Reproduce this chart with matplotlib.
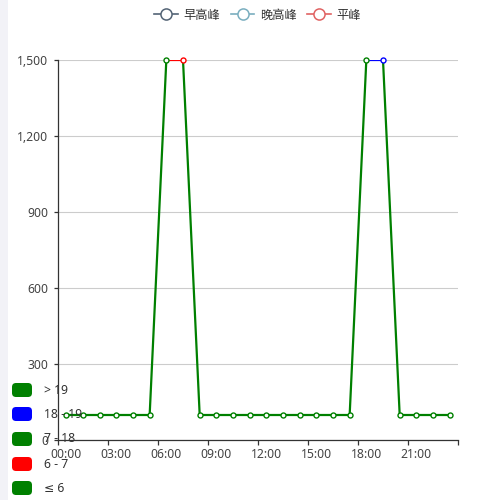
import matplotlib
matplotlib.use("Agg")
import matplotlib.pyplot as plt
from matplotlib.collections import LineCollection
from matplotlib.patches import FancyBboxPatch, Rectangle
from matplotlib.lines import Line2D
import numpy as np

plt.rcParams['font.family'] = ['Noto Sans', 'Noto Sans CJK SC', 'DejaVu Sans']

hours = ["%02d:00" % h for h in range(24)]
values = [100, 100, 100, 100, 100, 100, 1500, 1500, 100, 100, 100, 100,
          100, 100, 100, 100, 100, 100, 1500, 1500, 100, 100, 100, 100]
series_names = ["早高峰", "晚高峰", "平峰"]
series_colors = ["#536375", "#7aaebf", "#e06262"]

# visualMap pieces (dimension: x index)
piece_lo = [19, 18, 7, 6, None]
piece_hi = [None, 19, 18, 7, 6]
piece_labels = ["> 19", "18 - 19", "7 - 18", "6 - 7", "≤ 6"]
piece_colors = ["green", "blue", "green", "red", "green"]

y_ticks = [0, 300, 600, 900, 1200, 1500]


def piece_color(v):
    for lo, hi, c in zip(piece_lo, piece_hi, piece_colors):
        if (lo is None or v > lo) and (hi is None or v <= hi):
            return c
    return "green"


fig = plt.figure(figsize=(5, 5), dpi=100)
fig.patch.set_facecolor("white")
fig.patches.append(Rectangle((0, 0), 8 / 500, 1, transform=fig.transFigure,
                             facecolor="#f2f2f7", edgecolor="none", zorder=0))

ax = fig.add_axes([58 / 500, 60 / 500, 400 / 500, 380 / 500])
ax.set_xlim(-0.5, 23.5)
ax.set_ylim(0, 1500)

x = np.arange(len(values))
y = np.array(values, dtype=float)
segs = [[(x[i], y[i]), (x[i + 1], y[i + 1])] for i in range(len(x) - 1)]
seg_colors = [piece_color(i + 0.5) for i in range(len(x) - 1)]
lc = LineCollection(segs, colors=seg_colors, linewidths=1.6, zorder=3,
                    capstyle="round", joinstyle="round")
ax.add_collection(lc)
for i in range(len(x)):
    ax.plot(x[i], y[i], marker="o", markersize=3.6, markerfacecolor="white",
            markeredgecolor=piece_color(i), markeredgewidth=1.0, zorder=4,
            clip_on=False)

# grid
ax.set_yticks(y_ticks)
ax.set_yticklabels(["{:,}".format(v) for v in y_ticks])
ax.yaxis.grid(True, color="#cccccc", linewidth=0.8)
ax.set_axisbelow(True)

ax.set_xticks(x[::3])
ax.set_xticklabels([hours[i] for i in range(0, 24, 3)])
ax.set_xticks(np.arange(-0.5, 24, 3), minor=True)
ax.tick_params(axis="x", which="major", length=0, pad=6.0, labelsize=8.8,
               labelcolor="#444444")
ax.tick_params(axis="x", which="minor", length=3.6, width=0.9, color="#333333")
ax.tick_params(axis="y", which="major", length=3, width=0.9, color="#333333",
               pad=4, labelsize=8.8, labelcolor="#444444")

for s in ["top", "right"]:
    ax.spines[s].set_visible(False)
for s in ["left", "bottom"]:
    ax.spines[s].set_color("#333333")
    ax.spines[s].set_linewidth(0.9)

# legend at top
handles = [Line2D([0], [0], color=c, lw=1.2, marker="o", markersize=8,
                  markerfacecolor="white", markeredgecolor=c, markeredgewidth=1.1)
           for c in series_colors]
fig.legend(handles, series_names, loc="upper center", bbox_to_anchor=(0.515, 1.005),
           ncol=3, frameon=False, fontsize=8.8, handlelength=1.9,
           columnspacing=0.9, handletextpad=0.45, labelcolor="#333333")

# visualMap pieces legend
item_y = [390, 414, 439, 464, 488]
for yy, lab, col in zip(item_y, piece_labels, piece_colors):
    fig.patches.append(FancyBboxPatch((12 / 500, 1 - (yy + 7) / 500), 20 / 500, 14 / 500,
                                      boxstyle="round,pad=0,rounding_size=0.008",
                                      transform=fig.transFigure, facecolor=col,
                                      edgecolor="none", zorder=5))
    fig.text(44 / 500, 1 - yy / 500, lab, fontsize=8.8, color="#333333",
             va="center", ha="left", zorder=6, family=['Noto Sans', 'DejaVu Sans'])

fig.savefig("out.png", dpi=100)
